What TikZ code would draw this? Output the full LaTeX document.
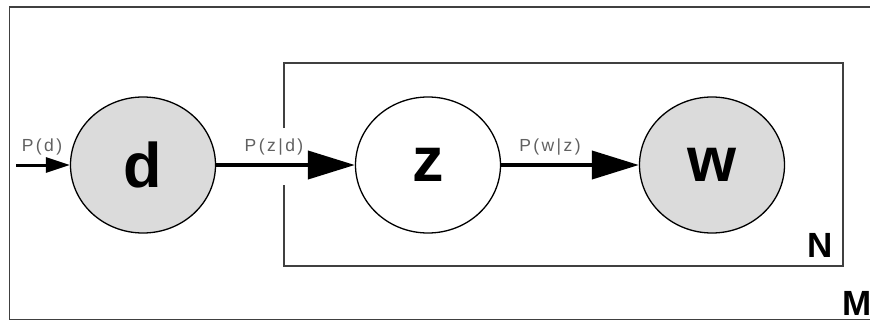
\documentclass[tikz,border=0pt]{standalone}
\usepackage{fontspec}
\setmainfont{Liberation Sans}
\newfontfamily\labfont[LetterSpace=14]{Liberation Sans}
\usetikzlibrary{arrows.meta,shapes.geometric}
\begin{document}
\begin{tikzpicture}[x=1pt,y=-1pt,
  var/.style={ellipse,draw=black,line width=1.3pt,minimum width=145pt,minimum height=136pt,inner sep=0pt,font=\fontsize{63}{63}\selectfont\bfseries},
  obs/.style={var,fill=gray!28},
  plate/.style={draw=black!75,line width=1.8pt},
  edge/.style={line width=4pt,-{Triangle[length=47pt,width=28pt]}},
  lab/.style={text=black!62,font=\fontsize{17.5}{17.5}\selectfont\labfont,inner sep=0pt},
  platelab/.style={font=\fontsize{35}{35}\selectfont\bfseries,inner sep=0pt}]
\useasboundingbox (0,0) rectangle (870,322);
% outer plate
\draw[plate] (875,7) -- (9.5,7) -- (9.5,319.5) -- (875,319.5);
% inner plate
\coordinate (gt) at (284,128);
\coordinate (gb) at (284,185);
\draw[plate] (gt) -- (284,63) -- (843,63) -- (843,266) -- (284,266) -- (gb);
% nodes
\node[obs] (d) at (143,165) {d};
\node[var] (z) at (428,165) {z};
\node[obs] (w) at (712,165) {w};
\coordinate (in) at (16,165);
% edges
\draw[line width=3pt,-{Triangle[length=24pt,width=15pt]}] (in) -- (d);
\draw[edge] (d) -- (z);
\draw[edge] (z) -- (w);
% labels
\node[lab,anchor=base] (ld) at (42,151) {P(d)};
\node[lab,anchor=base] (lzd) at (274,151) {P(z|d)};
\node[lab,anchor=base] (lwz) at (550,151) {P(w|z)};
\node[platelab,anchor=base east] (N) at (833,257) {N};
\node[platelab,anchor=base west] (M) at (842,315) {M};
\end{tikzpicture}
\end{document}
